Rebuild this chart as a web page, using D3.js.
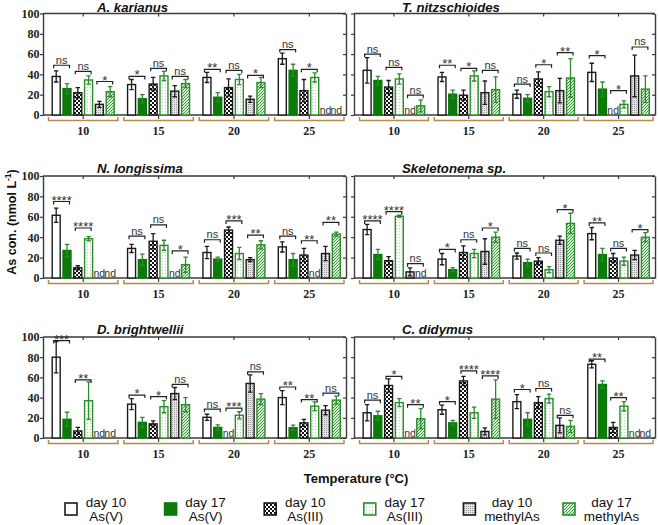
<!DOCTYPE html>
<html><head><meta charset="utf-8">
<script src="https://cdn.jsdelivr.net/npm/d3@7"></script>
<style>body{margin:0;background:#fff} svg{display:block}</style>
</head><body>
<svg id="c" width="658" height="525"></svg>
<script>
// ---------------- DATA ----------------
const temps = ["10","15","20","25"];
const seriesKeys = ["d10AsV","d17AsV","d10AsIII","d17AsIII","d10Me","d17Me"];
const legendLine1 = ["day 10","day 17","day 10","day 17","day 10","day 17"];
const legendLine2 = ["As(V)","As(V)","As(III)","As(III)","methylAs","methylAs"];
const yTicks = [0,20,40,60,80,100];
const speciesNames = ["A. karianus","T. nitzschioides","N. longissima","Skeletonema sp.","D. brightwellii","C. didymus"];

// means [temperature][series]; null = nd
const meanAK = [[38,26,22,34.5,10.5,23],[30,16,30.5,38.5,23.5,31],[37,17.5,27,35,15.5,32],[55.5,44,24,37,null,null]];
const errAK  = [[5.5,5,5,4,3,5],[5,4,6.5,4.5,5.5,4],[5,4.5,8.5,5,3,5],[5.5,6,11,4.5,0,0]];
const sigAK  = [[["ns",49],["ns",43],["*",33]],[["*",38],["ns",46],["ns",38]],[["**",45],["ns",44],["*",39]],[["ns",64.5],["*",45],null]];

const meanTN = [[44,34,27.5,35.5,null,9],[37.5,20.5,19.5,38.5,22,25],[20.5,16.5,35.5,23,24,36.5],[42,25.5,null,10.5,38.5,25.5]];
const errTN  = [[12.5,4,6.5,5,0,6],[4.5,4,5,5,11.5,12.5],[4,3.5,7,5,12,19],[9,7,0,3.5,20.5,13]];
const sigTN  = [[["ns",60],["ns",47],["ns",19.5]],[["**",49],["*",46],["ns",44]],[["ns",30.5],["*",49.5],["**",61.5]],[["*",58.5],["*",24],["ns",67]]];

const meanNL = [[61.5,27,10,38.5,null,null],[29,18,36,32,null,13],[25,18.5,47,24,18,32.5],[30.5,18,22.5,null,24,43]];
const errNL  = [[7,6,2,2,0,0],[4,5.5,7.5,5,0,7.5],[6,2,3,6,2,4],[5,6,6.5,0,7,2]];
const sigNL  = [[["****",75],["****",49],null],[["ns",41],["ns",52],["*",26.5]],[["ns",37.5],["***",56],["**",42]],[["ns",41],["**",36.5],["**",54.5]]];

const meanSK = [[47.5,23,17,60.5,6,null],[18.5,8.2,25,24,26,40],[21.5,15,16.5,8.2,37,53.5],[43.5,23,19.5,16.5,22.5,40]];
const errSK  = [[5,5,4,1,4,0],[5.5,2,6.5,4,12.5,5],[3,3.5,3.5,3,4,10],[6,6,4.5,4,4.5,4.5]];
const sigSK  = [[["****",56],["****",65],["ns",14]],[["*",28],["ns",37.5],["*",49]],[["ns",29],["ns",24.5],["*",67]],[["**",54],["ns",29],["*",47.5]]];

const meanDB = [[80,18.5,7,37,null,null],[33.5,15.5,14,31,44,33],[20.5,10.5,null,22.5,54,38.5],[40,10.2,15,31.5,27.5,37.5]];
const errDB  = [[15.5,7,3.5,18.5,0,0],[5.5,5,3,6,6,7],[3,2.5,0,3.5,8.5,5.5],[7,2.6,3.4,4.3,4.5,4]];
const sigDB  = [[["***",96.5],["**",57.5],null],[["*",42.5],["*",41],["ns",53]],[["ns",28.5],["***",29.5],["ns",65.5]],[["**",50.5],["**",38],["ns",44.5]]];

const meanCD = [[25,22,52,35,null,19],[28,15,56.5,25,6.5,38.5],[36,18.5,35,39,12.5,11.5],[73,53,10.5,31.5,null,null]];
const errCD  = [[8,4.5,6.5,4,0,10],[4.5,2.5,4.5,5.5,3.5,19],[7,6.5,6,4.5,7.5,6],[3.5,3.5,5,4.5,0,0]];
const sigCD  = [[["ns",37.5],["*",61],["**",33]],[["*",36],["****",66.5],["****",61.5]],[["*",48],["ns",49],["ns",22.5]],[["**",78],["**",40],null]];

const panelMeans = [meanAK, meanTN, meanNL, meanSK, meanDB, meanCD];
const panelErrs  = [errAK, errTN, errNL, errSK, errDB, errCD];
const panelSigs  = [sigAK, sigTN, sigNL, sigSK, sigDB, sigCD];

// ---------------- STYLE / LAYOUT ----------------
const SANS = "'Liberation Sans', Arial, sans-serif";
const SERIF = "'Liberation Serif', 'Times New Roman', serif";
const GREEN = "#0b7a0b", GREEN2 = "#2a8c2a", DARK = "#1a1a1a", AXIS = "#3a3a3a", TAN = "#b98a4a";
const colX = [[43,346],[354,655]];
const rowY = [[13.5,115],[176,278],[337,438]];
const titleX = [97,402];

const svg = d3.select("#c");
const defs = svg.append("defs");
function pat(id,w,h,draw){
  const p = defs.append("pattern").attr("id",id).attr("width",w).attr("height",h).attr("patternUnits","userSpaceOnUse");
  draw(p);
}
pat("pChk",4,4,p=>{
  p.append("rect").attr("width",4).attr("height",4).attr("fill","#111");
  p.append("rect").attr("width",2).attr("height",2).attr("fill","#fff");
  p.append("rect").attr("x",2).attr("y",2).attr("width",2).attr("height",2).attr("fill","#fff");
});
pat("pDot",3,3,p=>{
  p.append("rect").attr("width",3).attr("height",3).attr("fill","#fbfdfb");
  p.append("rect").attr("width",1).attr("height",1).attr("fill","#b9cfb9");
});
pat("pGrey",2,2,p=>{
  p.append("rect").attr("width",2).attr("height",2).attr("fill","#e4e4e4");
  p.append("rect").attr("width",1).attr("height",1).attr("fill","#9a9a9a");
});
pat("pHatch",3,3,p=>{
  p.append("rect").attr("width",3).attr("height",3).attr("fill","#d6ecd6");
  p.append("path").attr("d","M0,3 L3,0 M-1,1 L1,-1 M2,4 L4,2").attr("stroke","#2f8f2f").attr("stroke-width",0.9);
});
const fills   = {d10AsV:"#fff", d17AsV:GREEN, d10AsIII:"url(#pChk)", d17AsIII:"url(#pDot)", d10Me:"url(#pGrey)", d17Me:"url(#pHatch)"};
const strokes = {d10AsV:DARK, d17AsV:GREEN, d10AsIII:DARK, d17AsIII:GREEN2, d10Me:DARK, d17Me:GREEN2};
const errCol  = {d10AsV:DARK, d17AsV:GREEN2, d10AsIII:DARK, d17AsIII:GREEN2, d10Me:DARK, d17Me:GREEN2};

speciesNames.forEach((name, pi) => {
  const col = pi % 2, row = Math.floor(pi / 2);
  const [xL, xR] = colX[col];
  const [yTop, yZero] = rowY[row];
  const means = panelMeans[pi], errs = panelErrs[pi], sigs = panelSigs[pi];
  const g = svg.append("g");

  const y = d3.scaleLinear().domain([0,100]).range([yZero, yTop]);
  const x0 = d3.scaleBand().domain(temps).range([xL + 2.5, xR + 1]).paddingInner(0);
  const x1 = d3.scaleBand().domain(seriesKeys).range([0, x0.bandwidth()]).paddingInner(0.26).paddingOuter(0.62);
  const bw = x1.bandwidth();

  // title
  g.append("text").attr("x", titleX[col]).attr("y", row === 0 ? 11.5 : yTop - 3.5)
    .attr("font-family", SANS).attr("font-weight","bold").attr("font-style","italic")
    .attr("font-size", 13.2).attr("fill","#111").text(name);

  // left axis
  const ax = d3.axisLeft(y).tickValues(yTicks).tickSize(3).tickSizeOuter(0)
    .tickFormat(col === 0 ? d3.format("d") : () => "");
  const axg = g.append("g").attr("transform", `translate(${xL},0)`).call(ax);
  axg.select(".domain").attr("stroke", AXIS).attr("stroke-width", 1.4);
  axg.selectAll(".tick line").attr("stroke", AXIS).attr("stroke-width", 1.2);
  axg.selectAll(".tick text").attr("font-family", SERIF).attr("font-weight","bold")
    .attr("font-size", 12).attr("fill","#222").attr("x", -3.5);

  // right border with inward ticks
  const rax = d3.axisLeft(y).tickValues(yTicks).tickSize(3).tickSizeOuter(0).tickFormat(() => "");
  const raxg = g.append("g").attr("transform", `translate(${xR},0)`).call(rax);
  raxg.select(".domain").attr("stroke", AXIS).attr("stroke-width", 1.4);
  raxg.selectAll(".tick line").attr("stroke", AXIS).attr("stroke-width", 1.2);

  // top border with downward ticks at group centers
  const tax = d3.axisBottom(x0).tickSize(3).tickSizeOuter(0).tickFormat(() => "");
  const taxg = g.append("g").attr("transform", `translate(0,${yTop})`).call(tax);
  taxg.select(".domain").remove();
  taxg.selectAll(".tick line").attr("stroke", AXIS).attr("stroke-width", 1.2);
  g.append("line").attr("x1", xL).attr("x2", xR).attr("y1", yTop).attr("y2", yTop)
    .attr("stroke", AXIS).attr("stroke-width", 1.4);

  // bottom axis
  const bax = d3.axisBottom(x0).tickSize(4).tickSizeOuter(0).tickFormat(() => "");
  const baxg = g.append("g").attr("transform", `translate(0,${yZero})`).call(bax);
  baxg.select(".domain").remove();
  baxg.selectAll(".tick line").attr("stroke", AXIS).attr("stroke-width", 1.2);
  g.append("line").attr("x1", xL).attr("x2", xR).attr("y1", yZero).attr("y2", yZero)
    .attr("stroke", AXIS).attr("stroke-width", 1.4);

  // group brackets + labels
  temps.forEach(t => {
    const c = x0(t) + x0.bandwidth() / 2;
    const hw = x0.bandwidth() * 0.46;
    g.append("path").attr("d", `M${c-hw},${yZero+2}V${yZero+5.5}H${c+hw}V${yZero+2}`)
      .attr("fill","none").attr("stroke", TAN).attr("stroke-width", 1.5);
    g.append("text").attr("x", c).attr("y", yZero + 20).attr("text-anchor","middle")
      .attr("font-family", SERIF).attr("font-weight","bold").attr("font-size", 12).attr("fill","#222").text(t);
  });

  // bars, error bars, nd
  temps.forEach((t, ti) => {
    const gx = x0(t);
    seriesKeys.forEach((s, si) => {
      const m = means[ti][si];
      const bx = gx + x1(s);
      const cx = bx + bw / 2;
      if (m === null) {
        g.append("text").attr("x", cx).attr("y", yZero - 1.5).attr("text-anchor","middle")
          .attr("font-family", SANS).attr("font-size", 10.5).attr("fill","#333").text("nd");
        return;
      }
      g.append("rect").attr("x", bx).attr("y", y(m)).attr("width", bw).attr("height", yZero - y(m))
        .attr("fill", fills[s]).attr("stroke", strokes[s]).attr("stroke-width", 1.4);
      const e = errs[ti][si];
      if (e > 0) {
        const yt = y(m + e), yb = y(Math.max(0, m - e));
        g.append("path").attr("d", `M${cx},${yt}V${yb}M${cx-2.2},${yt}H${cx+2.2}M${cx-2.2},${yb}H${cx+2.2}`)
          .attr("stroke", errCol[s]).attr("stroke-width", 1.3).attr("fill","none");
      }
    });
    // significance brackets
    sigs[ti].forEach((sg, pi2) => {
      if (!sg) return;
      const [label, lvl] = sg;
      const ca = gx + x1(seriesKeys[pi2*2]) + bw/2 - 2.5;
      const cb = gx + x1(seriesKeys[pi2*2+1]) + bw/2 + 2.5;
      const yl = y(lvl);
      g.append("path").attr("d", `M${ca},${yl+3}V${yl}H${cb}V${yl+3}`)
        .attr("fill","none").attr("stroke","#222").attr("stroke-width", 1.2);
      const isStar = label.indexOf("*") >= 0;
      g.append("text").attr("x", (ca+cb)/2).attr("y", isStar ? yl + 3 : yl - 1.5)
        .attr("text-anchor","middle").attr("font-family", SANS)
        .attr("font-size", isStar ? 13 : 11).attr("fill","#333").text(label);
    });
  });
});

// axis titles
svg.append("text").attr("transform","translate(16,222) rotate(-90)").attr("text-anchor","middle")
  .attr("font-family", SANS).attr("font-weight","bold").attr("font-size", 12.5).attr("fill","#111")
  .call(t => {
    t.append("tspan").text("As con. (nmol L");
    t.append("tspan").attr("font-size", 8.5).attr("dy", -5).text("-1");
    t.append("tspan").attr("dy", 5).text(")");
  });
svg.append("text").attr("x", 356).attr("y", 483).attr("text-anchor","middle")
  .attr("font-family", SANS).attr("font-weight","bold").attr("font-size", 13).attr("fill","#111")
  .text("Temperature (°C)");

// legend
const lx = d3.scalePoint().domain(seriesKeys).range([65, 563]);
seriesKeys.forEach((s, i) => {
  const bx = lx(s);
  svg.append("rect").attr("x", bx).attr("y", 503).attr("width", 12).attr("height", 12)
    .attr("fill", fills[s]).attr("stroke", strokes[s]).attr("stroke-width", 1.6);
  const w = i >= 4 ? 57 : 42;
  const tx = bx + 20 + w / 2;
  svg.append("text").attr("x", tx).attr("y", 507).attr("text-anchor","middle")
    .attr("font-family", SANS).attr("font-size", 13.5).attr("fill","#111").text(legendLine1[i]);
  svg.append("text").attr("x", tx).attr("y", 521).attr("text-anchor","middle")
    .attr("font-family", SANS).attr("font-size", 13.5).attr("fill","#111").text(legendLine2[i]);
});
</script>
</body></html>
